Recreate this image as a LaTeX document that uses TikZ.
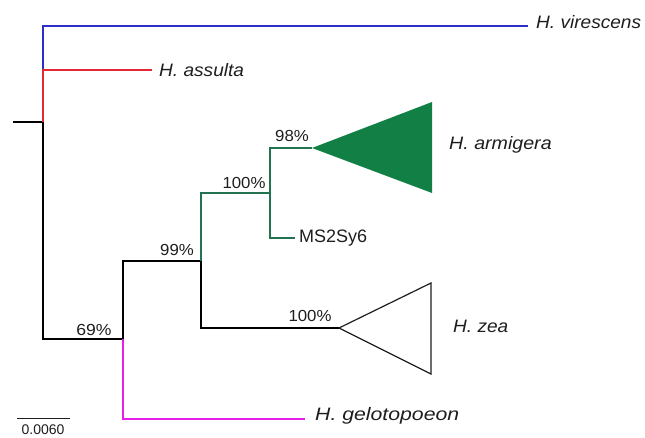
\documentclass[tikz,border=0pt]{standalone}
\usepackage{fontspec}
\setmainfont{Liberation Sans}
\definecolor{cblue}{RGB}{45,45,200}
\definecolor{cred}{RGB}{228,40,55}
\definecolor{cgreen}{RGB}{35,115,80}
\definecolor{cfill}{RGB}{18,128,68}
\definecolor{cmag}{RGB}{230,30,230}
\definecolor{ctext}{RGB}{30,30,30}
\newcommand{\wide}[2]{\scalebox{#1}[1]{#2}}
\begin{document}
\begin{tikzpicture}[x=1pt,y=-1pt,
  br/.style={line width=1.3pt},
  taxon/.style={anchor=west,inner sep=0pt,font=\fontsize{18}{18}\selectfont\itshape,text=ctext},
  plain/.style={anchor=west,inner sep=0pt,font=\fontsize{18}{18}\selectfont,text=ctext},
  supp/.style={inner sep=0pt,font=\fontsize{16}{16}\selectfont,text=ctext}]
\useasboundingbox (0,0) rectangle (645,438);
% coordinates
\coordinate (r0) at (13,122);
\coordinate (r) at (43,122);
\coordinate (vtop) at (43,26);
\coordinate (atop) at (43,70);
\coordinate (rbot) at (43,339);
\coordinate (n69) at (123,339);
\coordinate (n69t) at (123,261);
\coordinate (n69b) at (123,419);
\coordinate (n99) at (201,261);
\coordinate (n99t) at (201,193);
\coordinate (n99b) at (201,328);
\coordinate (n100) at (270,193);
\coordinate (n100t) at (270,148);
\coordinate (n100b) at (270,238);
\coordinate (ve) at (528,26);
\coordinate (ae) at (152,70);
\coordinate (ge) at (305,419);
\coordinate (me) at (295,238);
% triangles
\coordinate (aa) at (312,148);
\coordinate (zz) at (339,328);
\fill[cfill] (aa) -- (432,102) -- (432,193) -- cycle;
\draw[line width=1.2pt,ctext] (zz) -- (431,283) -- (431,374) -- cycle;
% branches
\draw[br,black] (r0) -- (r);
\draw[br,cblue] (ve) -- (vtop) -- (atop);
\draw[br,cred] (ae) -- (atop) -- (r);
\draw[br,black] (r) -- (rbot) -- (n69) -- (n69t) -- (n99) -- (n99b) -- (zz);
\draw[br,cmag] (n69) -- (n69b) -- (ge);
\draw[br,cgreen] (n99) -- (n99t) -- (n100) -- (n100t) -- (aa);
\draw[br,cgreen] (n100) -- (n100b) -- (me);
% labels
\node[taxon] (lv) at (536,22) {\wide{1.06}{H. virescens}};
\node[taxon] (la) at (159,70) {\wide{1.06}{H. assulta}};
\node[taxon] (lar) at (449,145) {\wide{1.09}{H. armigera}};
\node[plain] (lm) at (299,238) {MS2Sy6};
\node[taxon] (lz) at (453,326) {\wide{1.06}{H. zea}};
\node[taxon] (lg) at (315,416) {\wide{1.18}{H. gelotopoeon}};
\node[supp] (s98) at (292,136) {\wide{1.05}{98\%}};
\node[supp] (s100a) at (244,183) {\wide{1.05}{100\%}};
\node[supp] (s99) at (177,250) {\wide{1.05}{99\%}};
\node[supp] (s69) at (94,330) {\wide{1.1}{69\%}};
\node[supp] (s100b) at (310,316) {\wide{1.05}{100\%}};
% scale bar
\coordinate (sb1) at (17,418);
\coordinate (sb2) at (70,418);
\draw[line width=1pt,ctext] (sb1) -- (sb2);
\node[supp,font=\fontsize{14}{14}\selectfont] (sbl) at (43,430) {0.0060};
\end{tikzpicture}
\end{document}
